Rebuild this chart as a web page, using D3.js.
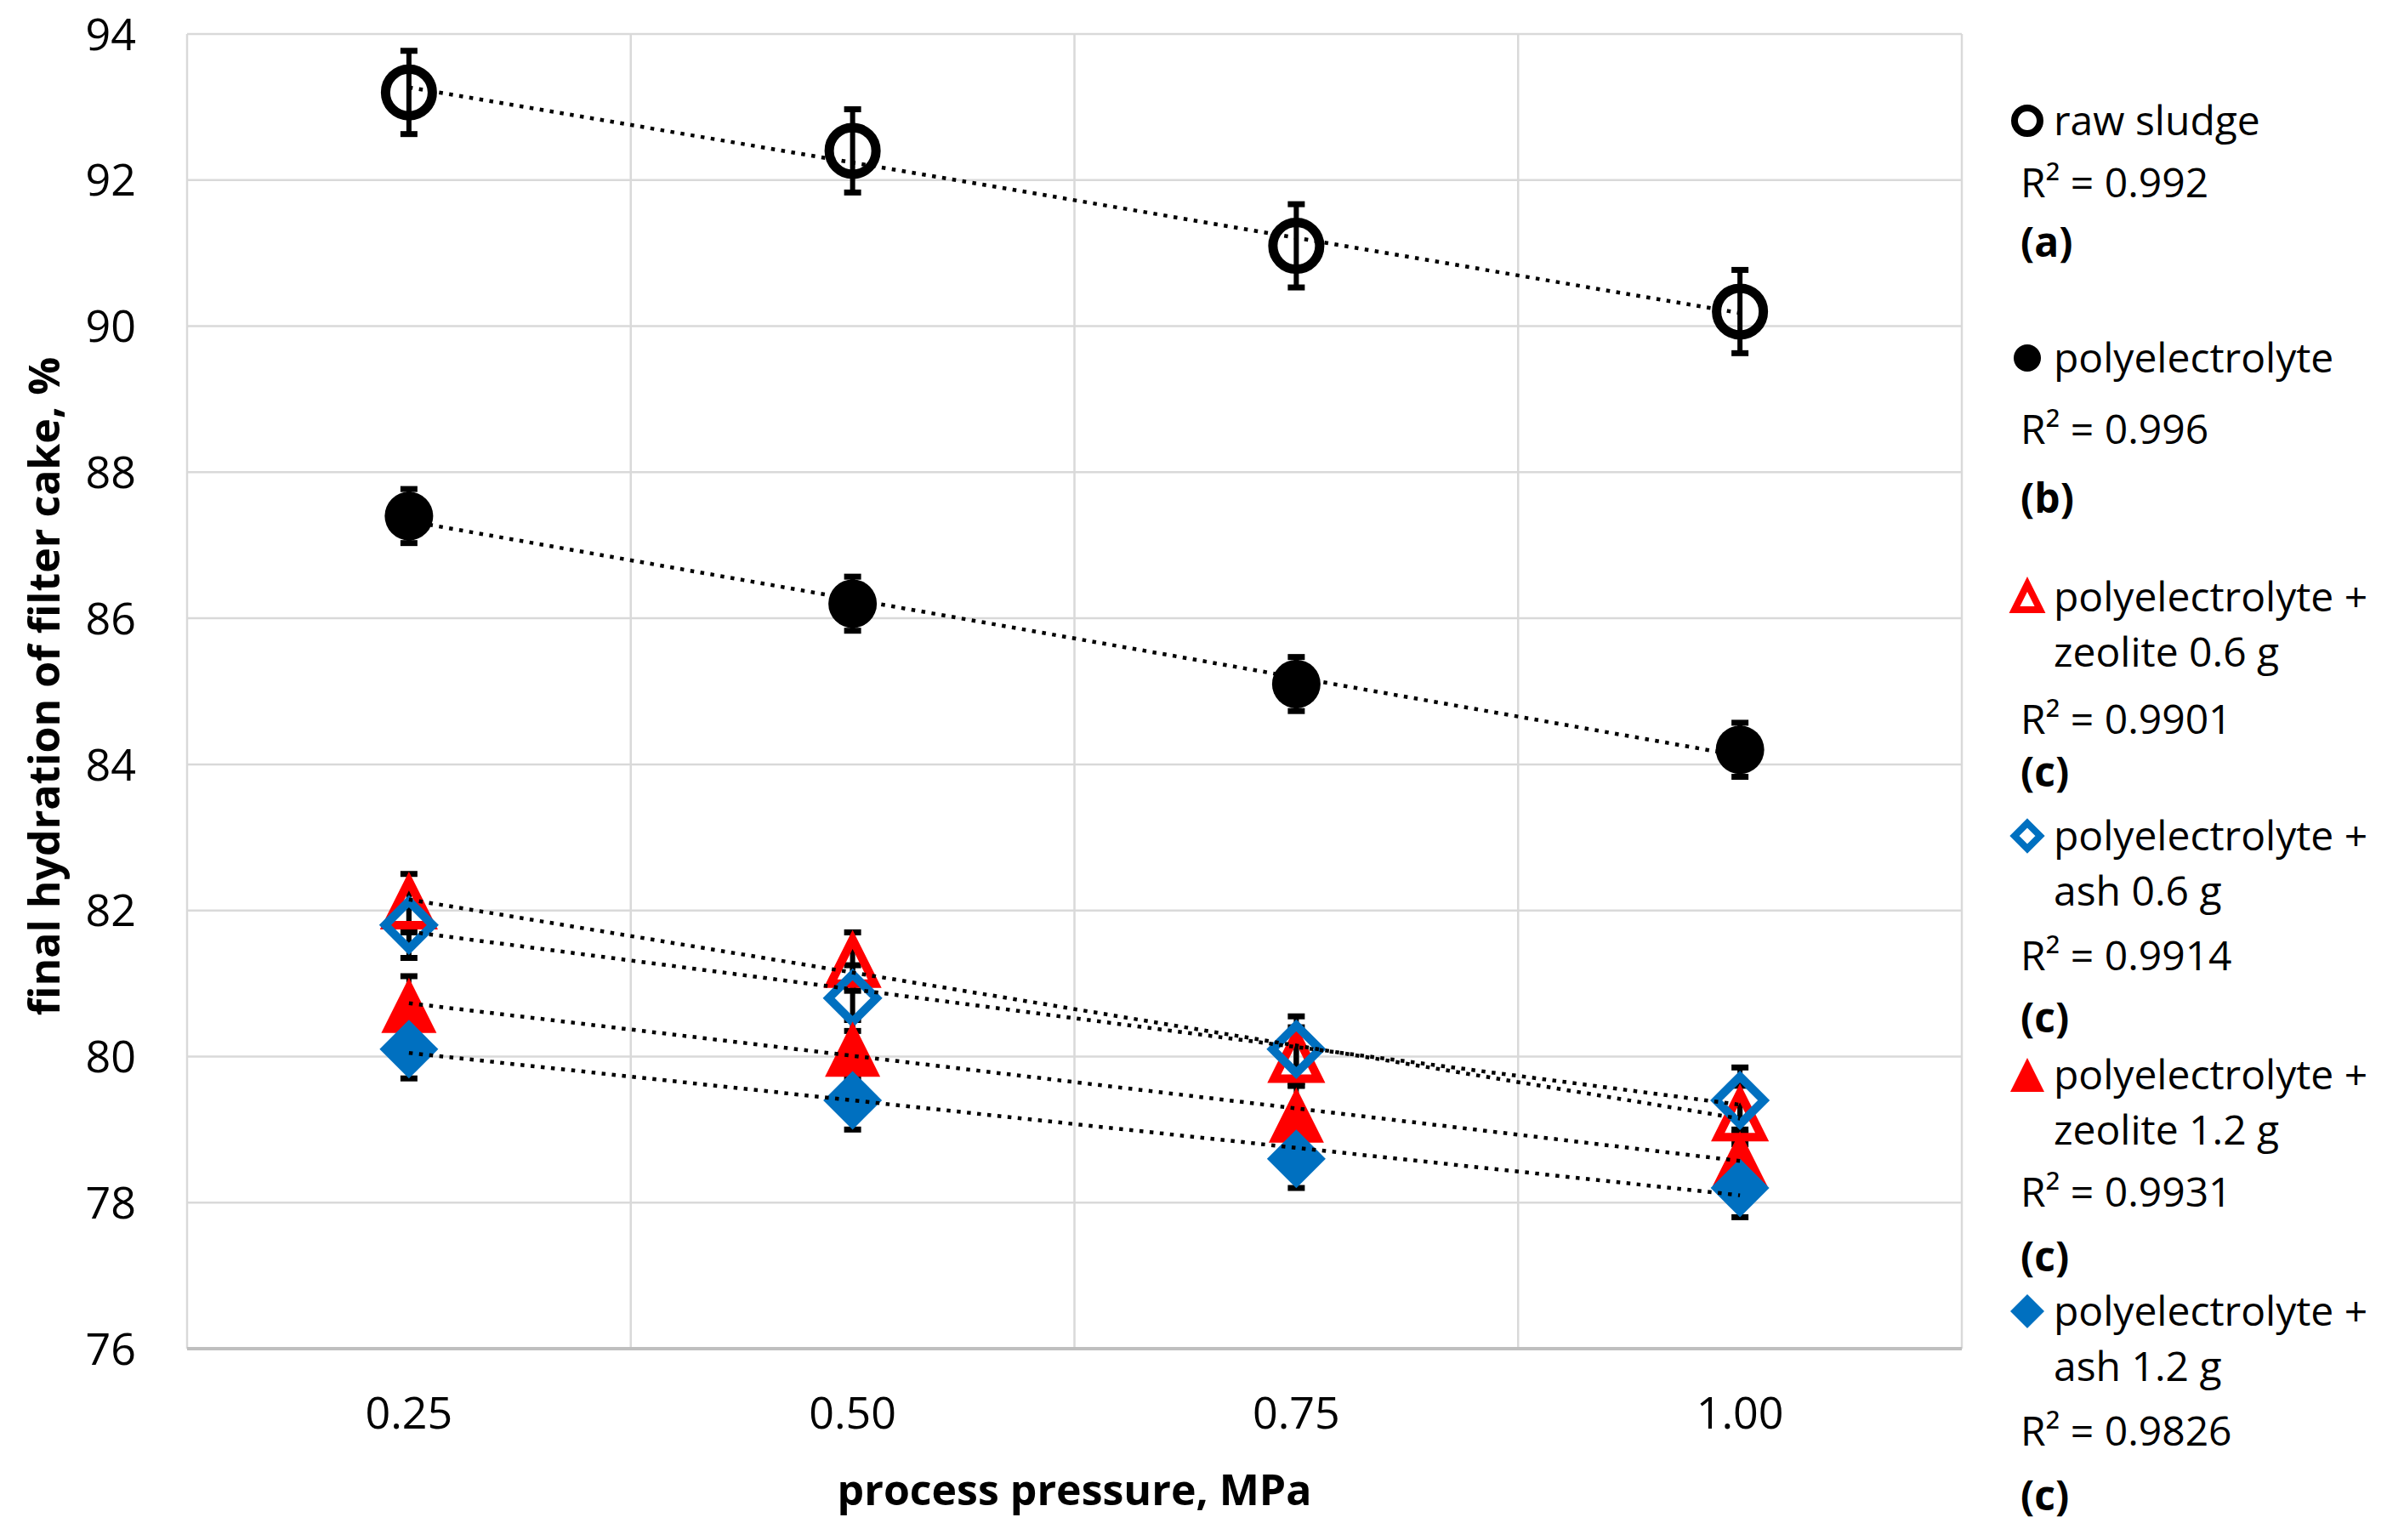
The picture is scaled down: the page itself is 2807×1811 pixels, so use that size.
<!DOCTYPE html>
<html>
<head>
<meta charset="utf-8">
<script src="https://cdn.jsdelivr.net/npm/d3@7"></script>
<style>
  body { margin: 0; background: #fff; }
  text { font-family: "Open Sans", "Noto Sans", sans-serif; fill: #000; }
</style>
</head>
<body>
<svg width="2807" height="1811"></svg>
<script>
// Data.
const categories = ['0.25', '0.50', '0.75', '1.00'];
const rawSludge = [93.2, 92.4, 91.1, 90.2];
const polyelectrolyte = [87.4, 86.2, 85.1, 84.2];
const zeolite06 = [82.1, 81.3, 80.0, 79.2];
const ash06 = [81.8, 80.8, 80.1, 79.4];
const zeolite12 = [80.7, 80.1, 79.2, 78.6];
const ash12 = [80.1, 79.4, 78.6, 78.2];
const errors = [0.57, 0.37, 0.4, 0.45, 0.4, 0.4];
const yTicks = [76, 78, 80, 82, 84, 86, 88, 90, 92, 94];
const seriesNames = [
  ['raw sludge'],
  ['polyelectrolyte'],
  ['polyelectrolyte +', 'zeolite 0.6 g'],
  ['polyelectrolyte +', 'ash 0.6 g'],
  ['polyelectrolyte +', 'zeolite 1.2 g'],
  ['polyelectrolyte +', 'ash 1.2 g']
];
const r2Labels = ['R\u00b2 = 0.992', 'R\u00b2 = 0.996', 'R\u00b2 = 0.9901', 'R\u00b2 = 0.9914', 'R\u00b2 = 0.9931', 'R\u00b2 = 0.9826'];
const fitTags = ['(a)', '(b)', '(c)', '(c)', '(c)', '(c)'];

// Styles per series.
const styles = [
  { shape: 'circle', color: '#000', filled: false },
  { shape: 'circle', color: '#000', filled: true },
  { shape: 'triangle', color: '#ff0000', filled: false },
  { shape: 'diamond', color: '#0070c0', filled: false },
  { shape: 'triangle', color: '#ff0000', filled: true },
  { shape: 'diamond', color: '#0070c0', filled: true }
];
const allValues = [rawSludge, polyelectrolyte, zeolite06, ash06, zeolite12, ash12];
const series = allValues.map((values, i) => ({
  values, err: errors[i], name: seriesNames[i], r2: r2Labels[i], tag: fitTags[i], ...styles[i]
}));

// 1. Dimensions and scales.
const plot = { left: 220, right: 2307, top: 40, bottom: 1586 };
const svg = d3.select('svg');

const xBand = d3.scaleBand().domain(categories).range([plot.left, plot.right]).padding(0);
const xScale = c => xBand(c) + xBand.bandwidth() / 2;
const yScale = d3.scaleLinear().domain([76, 94]).range([plot.bottom, plot.top]);

// Marker shapes: a = half size of the box.
function markerPath(shape, a) {
  if (shape === 'circle') return d3.arc()({ innerRadius: 0, outerRadius: a, startAngle: 0, endAngle: 2 * Math.PI });
  if (shape === 'triangle') return `M0,${-a}L${a},${a}L${-a},${a}Z`;
  return `M0,${-a}L${a},0L0,${a}L${-a},0Z`;
}
function markerSize(s, legend) {
  if (legend) {
    if (s.shape === 'circle') return s.filled ? 16 : 15;
    return s.filled ? 20 : 15;
  }
  if (s.shape === 'circle') return s.filled ? 28.5 : 27.5;
  if (s.shape === 'triangle') return s.filled ? 32.5 : 26;
  return s.filled ? 34.5 : 28;
}
function drawMarker(g, s, legend) {
  g.append('path')
    .attr('d', markerPath(s.shape, markerSize(s, legend)))
    .attr('fill', s.filled ? s.color : 'none')
    .attr('stroke', s.filled ? 'none' : s.color)
    .attr('stroke-width', s.filled ? 0 : (legend ? 8 : (s.shape === 'circle' ? 11 : 10)))
    .attr('stroke-linejoin', 'miter');
}

// 2. Grid and axes.
svg.append('g')
  .selectAll('line')
  .data(yTicks.slice(1))
  .enter()
  .append('line')
  .attr('x1', plot.left).attr('x2', plot.right)
  .attr('y1', d => yScale(d)).attr('y2', d => yScale(d))
  .attr('stroke', '#d9d9d9').attr('stroke-width', 2.5);

const xBounds = categories.map(c => xBand(c)).concat([plot.right]);
svg.append('g')
  .selectAll('line')
  .data(xBounds)
  .enter()
  .append('line')
  .attr('x1', d => d).attr('x2', d => d)
  .attr('y1', plot.top).attr('y2', plot.bottom)
  .attr('stroke', '#d9d9d9').attr('stroke-width', 2.5);

svg.append('line')
  .attr('x1', plot.left).attr('x2', plot.right)
  .attr('y1', plot.bottom).attr('y2', plot.bottom)
  .attr('stroke', '#bfbfbf').attr('stroke-width', 4);

// Tick labels.
svg.append('g')
  .selectAll('text')
  .data(yTicks)
  .enter()
  .append('text')
  .attr('x', 160)
  .attr('y', d => yScale(d))
  .attr('dy', '0.36em')
  .attr('text-anchor', 'end')
  .style('font-size', '52px')
  .text(d => d);

svg.append('g')
  .selectAll('text')
  .data(categories)
  .enter()
  .append('text')
  .attr('x', d => xScale(d))
  .attr('y', 1680)
  .attr('text-anchor', 'middle')
  .style('font-size', '52px')
  .text(d => d);

// Axis titles.
svg.append('text')
  .attr('x', (plot.left + plot.right) / 2)
  .attr('y', 1770)
  .attr('text-anchor', 'middle')
  .style('font-size', '50px')
  .style('font-weight', 'bold')
  .text('process pressure, MPa');

svg.append('text')
  .attr('transform', `translate(70,${(plot.top + plot.bottom) / 2 - 6}) rotate(-90)`)
  .attr('text-anchor', 'middle')
  .style('font-size', '50px')
  .style('font-weight', 'bold')
  .text('final hydration of filter cake, %');

// 3. Error bars (under the markers).
const errG = svg.append('g').attr('stroke', '#000').attr('stroke-width', 6);
series.forEach(s => {
  s.values.forEach((v, i) => {
    const cx = xScale(categories[i]);
    const yHi = yScale(v + s.err);
    const yLo = yScale(v - s.err);
    errG.append('line').attr('x1', cx).attr('x2', cx).attr('y1', yHi).attr('y2', yLo);
    errG.append('line').attr('x1', cx - 10).attr('x2', cx + 10).attr('y1', yHi).attr('y2', yHi).attr('stroke-width', 7);
    errG.append('line').attr('x1', cx - 10).attr('x2', cx + 10).attr('y1', yLo).attr('y2', yLo).attr('stroke-width', 7);
  });
});

// Markers.
series.forEach(s => {
  s.values.forEach((v, i) => {
    const g = svg.append('g').attr('transform', `translate(${xScale(categories[i])},${yScale(v)})`);
    drawMarker(g, s, false);
  });
});

// Linear trend lines (least squares over category index 1..4).
series.forEach(s => {
  const xs = s.values.map((v, i) => i + 1);
  const mx = d3.mean(xs);
  const my = d3.mean(s.values);
  const slope = d3.sum(xs, (x, i) => (x - mx) * (s.values[i] - my)) / d3.sum(xs, x => (x - mx) * (x - mx));
  const fit = x => my + slope * (x - mx);
  const pts = [0, categories.length - 1].map(i => [xScale(categories[i]), yScale(fit(i + 1))]);
  svg.append('path')
    .attr('d', d3.line()(pts))
    .attr('fill', 'none')
    .attr('stroke', '#000')
    .attr('stroke-width', 4.5)
    .attr('stroke-dasharray', '4.5 7.5');
});

// 4. Legend.
const legendMarkerY = [142, 421, 702, 983, 1264, 1542];
const legendR2Y = [232, 522, 863, 1141, 1419, 1700];
const legendTagY = [302, 603, 925, 1214, 1495, 1776];
const legendG = svg.append('g');
series.forEach((s, i) => {
  const mg = legendG.append('g').attr('transform', `translate(2384,${legendMarkerY[i]})`);
  drawMarker(mg, s, true);
  s.name.forEach((line, j) => {
    legendG.append('text')
      .attr('x', 2415)
      .attr('y', legendMarkerY[i] + 17 + j * 65)
      .style('font-size', '48px')
      .text(line);
  });
  legendG.append('text')
    .attr('x', 2376)
    .attr('y', legendR2Y[i])
    .style('font-size', '48px')
    .text(s.r2);
  legendG.append('text')
    .attr('x', 2376)
    .attr('y', legendTagY[i])
    .style('font-size', '48px')
    .style('font-weight', 'bold')
    .text(s.tag);
});
</script>
</body>
</html>
